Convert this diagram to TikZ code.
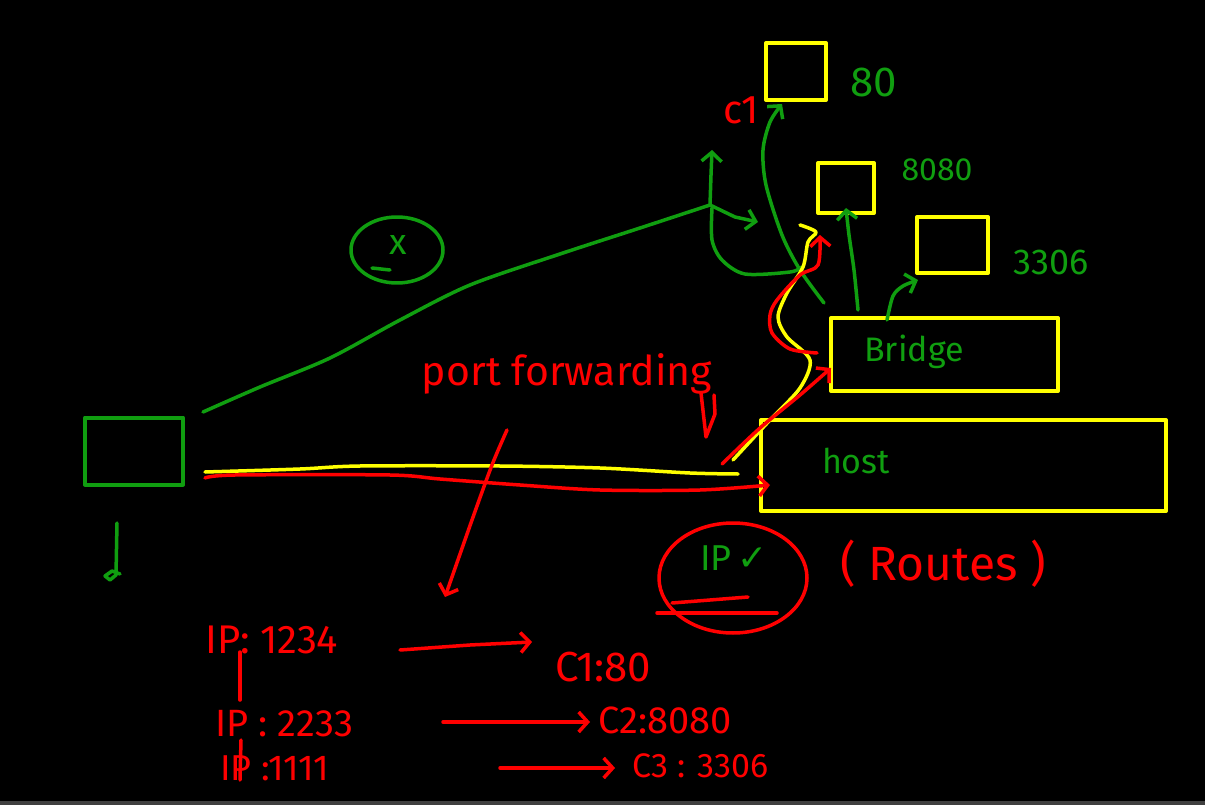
\documentclass[tikz,border=0pt]{standalone}
\usepackage{fontspec}
\setmainfont{Fira Sans}
\newfontfamily\symfont{DejaVu Sans}
\usetikzlibrary{arrows.meta}
\definecolor{hgreen}{RGB}{16,158,16}
\definecolor{hred}{RGB}{255,0,0}
\definecolor{hyellow}{RGB}{255,255,0}
\newcommand{\fs}[1]{\fontsize{#1}{#1}\selectfont}
\begin{document}
\begin{tikzpicture}[x=1pt,y=-1pt,line cap=round,line join=round,
  ybox/.style={draw=hyellow,line width=4pt,inner sep=0pt},
  gbox/.style={draw=hgreen,line width=4pt,inner sep=0pt},
  gline/.style={draw=hgreen,line width=3.5pt},
  rline/.style={draw=hred,line width=3.5pt},
  yline/.style={draw=hyellow,line width=3.5pt},
  harr/.style={-{Straight Barb[length=9pt,width=20pt,line width=3.5pt]}},
  gtxt/.style={text=hgreen,inner sep=0pt},
  rtxt/.style={text=hred,inner sep=0pt}]
\fill[black] (0,0) rectangle (1205,805);
\fill[black!75] (0,801) rectangle (1205,805);
% boxes
\node[gbox,minimum width=98pt,minimum height=67pt] (user) at (134,451) {};
\node[ybox,minimum width=60pt,minimum height=57pt] (bc1) at (796,71.5) {};
\node[ybox,minimum width=56pt,minimum height=50pt] (bc2) at (846,188) {};
\node[ybox,minimum width=71pt,minimum height=56pt] (bc3) at (952.5,245) {};
\node[ybox,minimum width=227pt,minimum height=73pt] (bridge) at (944.5,354.5) {};
\node[ybox,minimum width=405pt,minimum height=91pt] (host) at (963.5,465.5) {};
% labels
\node[gtxt,font=\fs{42}] (p80) at (874,82) {80};
\node[gtxt,font=\fs{32}] (p8080) at (937,170) {8080};
\node[gtxt,font=\fs{36}] (p3306) at (1051,262) {3306};
\node[rtxt,font=\fs{40}] (lc1) at (741,110) {c1};
\node[gtxt,font=\fs{34}] (lbridge) at (914,352) {Bridge};
\node[gtxt,font=\fs{34}] (lhost) at (856,461) {host};
\node[rtxt,font=\fs{41}] (lpf) at (567,374) {port forwarding};
\node[rtxt,font=\fs{48}] (lroutes) at (943,564) {( Routes )};
\node[gtxt,font=\fs{36}] (lip) at (734,558) {IP\,{\symfont ✓}};
\node[gtxt,font=\fs{36}] (lx) at (398,245) {x};
% bottom table
\node[rtxt,font=\fs{40},anchor=west] (ip1) at (205,640) {IP: 1234};
\node[rtxt,font=\fs{42},anchor=west] (c1p) at (555,667) {C1:80};
\node[rtxt,font=\fs{38},anchor=west] (ip2) at (215,724) {IP : 2233};
\node[rtxt,font=\fs{38},anchor=west] (c2p) at (598,720) {C2:8080};
\node[rtxt,font=\fs{36},anchor=west] (ip3) at (220,768) {IP :1111};
\node[rtxt,font=\fs{34},anchor=west] (c3p) at (632,766) {C3 : 3306};
\draw[rline,harr] (400,650) -- (470,645) -- (532,642);
\draw[rline,harr] (443,722) -- (590,722);
\draw[rline,harr] (500,768) -- (615,768);
\draw[rline] (240,652) -- (240,700);
\draw[rline] (241,740) -- (240,780);
% user mark
\draw[gline] (117,523) -- (116,575) -- (110,580) -- (105,576) -- (112,571) -- (120,574);
% circled x
\draw[gline] (397,250) ellipse[x radius=46,y radius=33];
\draw[gline] (372,268) -- (390,270);
% circled IP
\draw[rline] (733,578) ellipse[x radius=74,y radius=55];
\draw[rline] (672,603) -- (748,597);
\draw[rline] (657,613) -- (777,613);
% green connectors
\coordinate (hub) at (710,205);
\draw[gline] ([shift={(20,-39)}]user.east) plot[smooth] coordinates {(203,412) (260,387) (330,358) (400,320) (470,285) (560,254) (640,228) (710,205)};
\draw[gline,harr] (hub) -- (711,175) -- (712,150);
\draw[gline,harr] (hub) -- (735,217) -- (758,222);
\draw[gline] plot[smooth] coordinates {(712,208) (712,240) (722,260) (745,274) (790,272) (802,267)};
\draw[gline,harr] plot[smooth] coordinates {(824,303) (800,270) (782,235) (766,185) (763,150) (770,122) (782,104)} ;
\draw[gline,harr] plot[smooth] coordinates {(858,310) (854,270) (849,235) (846,208)};
\draw[gline,harr] plot[smooth] coordinates {(887,320) (893,296) (903,286) (918,280)};
% yellow / red link user -> host
\draw[yline] plot[smooth] coordinates {(205,472) (300,469) (360,466) (500,466) (600,468) (690,473) (738,474)};
\draw[rline,harr] plot[smooth] coordinates {(205,478) (235,475) (390,475) (440,479) (520,485) (600,490) (700,490) (770,485)};
% yellow / red link host -> bridge -> containers
\draw[yline] plot[smooth] coordinates {(733,460) (770,420) (800,388) (810,360) (787,337) (778,317) (787,293) (803,267) (808,242) (816,232) (800,225)};
\draw[rline,harr] plot[smooth] coordinates {(722,464) (760,428) (800,395) (831,368)};
\draw[rline,harr] plot[smooth] coordinates {(817,353) (790,349) (772,333) (770,315) (777,300) (800,275) (818,265) (820,235)};
% red down arrow and hook
\draw[rline,harr] plot[smooth] coordinates {(507,430) (492,465) (472,520) (445,597)};
\draw[rline] (701,393) -- (706,437) -- (715,414) -- (714,395);
\end{tikzpicture}
\end{document}
